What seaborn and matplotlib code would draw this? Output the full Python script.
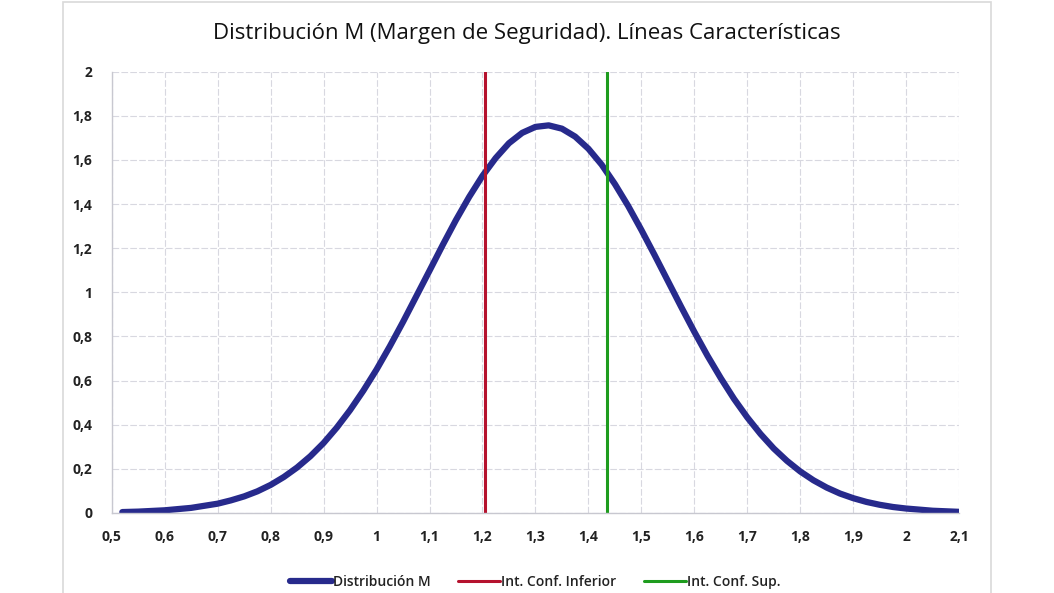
import pandas as pd
import seaborn as sns
import matplotlib.pyplot as plt
from matplotlib.ticker import FuncFormatter, MultipleLocator
from matplotlib.patches import Rectangle

# Curve values (x = margin M, y = density)
m_values = [0.52, 0.55, 0.60, 0.65, 0.70, 0.725, 0.75, 0.775, 0.80, 0.825,
            0.85, 0.875, 0.90, 0.925, 0.95, 0.975, 1.00, 1.025, 1.05, 1.075,
            1.10, 1.125, 1.15, 1.175, 1.20, 1.225, 1.25, 1.275, 1.30, 1.325,
            1.35, 1.375, 1.40, 1.425, 1.45, 1.475, 1.50, 1.525, 1.55, 1.575,
            1.60, 1.625, 1.65, 1.675, 1.70, 1.725, 1.75, 1.775, 1.80, 1.825,
            1.85, 1.875, 1.90, 1.925, 1.95, 1.975, 2.00, 2.05, 2.10]
density = [0.004, 0.006, 0.012, 0.023, 0.042, 0.057, 0.075, 0.098, 0.127, 0.163,
           0.206, 0.257, 0.317, 0.387, 0.466, 0.554, 0.650, 0.755, 0.866, 0.982,
           1.098, 1.215, 1.328, 1.433, 1.528, 1.609, 1.676, 1.723, 1.750, 1.757,
           1.742, 1.706, 1.651, 1.579, 1.491, 1.392, 1.283, 1.169, 1.052, 0.935,
           0.821, 0.712, 0.611, 0.517, 0.433, 0.358, 0.292, 0.236, 0.188, 0.148,
           0.115, 0.088, 0.067, 0.050, 0.037, 0.027, 0.020, 0.010, 0.005]

# Confidence interval limits
ic_inferior = 1.205
ic_superior = 1.435

series_names = ['Distribución M', 'Int. Conf. Inferior', 'Int. Conf. Sup.']
title = 'Distribución M (Margen de Seguridad). Líneas Características'

df = pd.DataFrame({'M': m_values, 'Densidad': density})

sns.set_theme(style='white')
plt.rcParams['font.family'] = ['Open Sans', 'DejaVu Sans']

fig = plt.figure(figsize=(10.54, 5.93), dpi=100)
ax = fig.add_axes([0.106, 0.135, 0.804, 0.744])

# Outer chart border
fig.patches.append(Rectangle((0.060, -0.01), 0.880, 1.007, transform=fig.transFigure,
                             fill=False, edgecolor='#d9d9d9', linewidth=1.2))

sns.lineplot(data=df, x='M', y='Densidad', ax=ax, color='#272a8c', linewidth=4.5,
             label=series_names[0], solid_capstyle='round', solid_joinstyle='round')
ax.axvline(ic_inferior, color='#b5122e', linewidth=2.2, label=series_names[1])
ax.axvline(ic_superior, color='#1e9c1e', linewidth=2.2, label=series_names[2])

ax.set_xlim(0.5, 2.1)
ax.set_ylim(0, 2)
ax.xaxis.set_major_locator(MultipleLocator(0.1))
ax.yaxis.set_major_locator(MultipleLocator(0.2))
fmt = FuncFormatter(lambda v, p: f'{round(v, 2):g}'.replace('.', ','))
ax.xaxis.set_major_formatter(fmt)
ax.yaxis.set_major_formatter(fmt)

ax.grid(True, color='#d8d8e0', linewidth=0.8, linestyle=(0, (6, 2)))
ax.set_axisbelow(True)
for side in ['top', 'right']:
    ax.spines[side].set_visible(False)
for side in ['bottom', 'left']:
    ax.spines[side].set_color('#c8c8d0')
    ax.spines[side].set_linewidth(1.0)

ax.tick_params(axis='both', length=0, labelsize=10, labelcolor='#222222', pad=12)
ax.tick_params(axis='y', pad=14)
for lbl in ax.get_xticklabels() + ax.get_yticklabels():
    lbl.set_fontweight('bold')

ax.set_xlabel('')
ax.set_ylabel('')
fig.text(0.5, 0.943, title, ha='center', va='center', fontsize=16, color='#111111')

ax.legend(loc='upper center', bbox_to_anchor=(0.5, -0.112), ncol=3, frameon=False,
          fontsize=10, handlelength=3.0, handletextpad=0.1, columnspacing=2.0)
for t in ax.get_legend().get_texts():
    t.set_fontweight('semibold')
    t.set_color('#222222')

plt.savefig('out.png', dpi=100)
plt.close()
